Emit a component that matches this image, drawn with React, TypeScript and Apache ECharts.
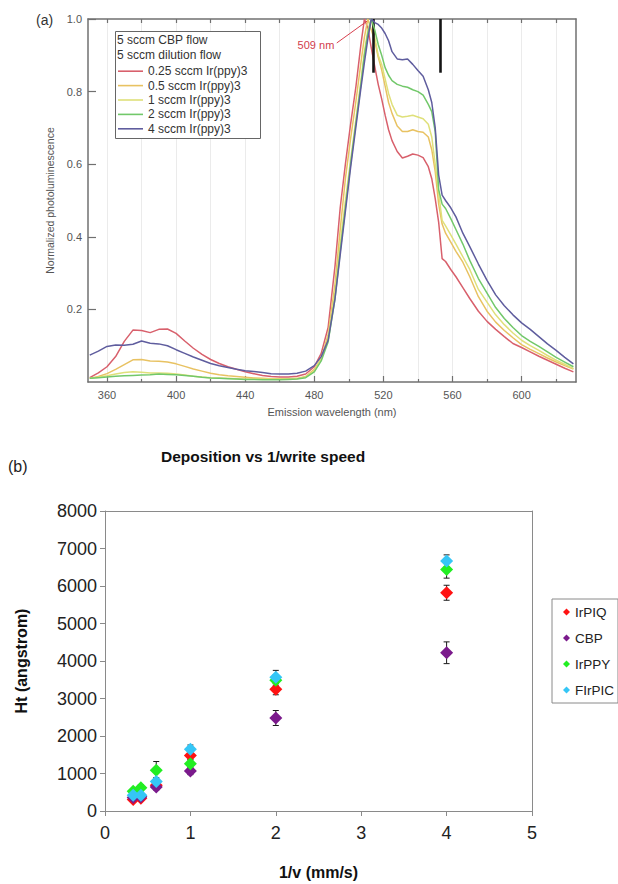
import React, { useEffect, useRef } from 'react';
import * as echarts from 'echarts';

// ---------- (a) photoluminescence spectra ----------
const wavelengths = [350, 355, 360, 365, 370, 375, 380, 385, 390, 395, 400, 405, 410, 415, 420, 425, 430, 435, 440, 445, 450, 455, 460, 465, 470, 475,
  480, 484, 488, 492, 495, 498, 501, 504, 507, 509, 511, 513, 515, 517, 519, 521, 523, 525, 528, 531, 534, 537, 540, 543, 546, 548, 550, 552, 554, 556,
  559, 562, 566, 570, 575, 580, 585, 590, 595, 600, 605, 610, 615, 620, 625, 630];

const pl025 = [0.012, 0.025, 0.042, 0.07, 0.112, 0.143, 0.142, 0.136, 0.145, 0.146, 0.134, 0.113, 0.093, 0.076, 0.062, 0.051, 0.042, 0.035, 0.028, 0.023, 0.018, 0.015, 0.014, 0.014, 0.016, 0.022,
  0.042, 0.079, 0.15, 0.32, 0.48, 0.6, 0.71, 0.81, 0.93, 1.0, 0.975, 0.92, 0.869, 0.82, 0.78, 0.735, 0.695, 0.665, 0.635, 0.617,
  0.622, 0.628, 0.625, 0.618, 0.593, 0.56, 0.505, 0.44, 0.34, 0.332, 0.31, 0.29, 0.26, 0.23, 0.195, 0.167, 0.145, 0.125, 0.106, 0.095,
  0.083, 0.071, 0.06, 0.049, 0.038, 0.028];
const pl05 = [0.01, 0.015, 0.023, 0.035, 0.048, 0.061, 0.062, 0.058, 0.057, 0.055, 0.05, 0.043, 0.036, 0.03, 0.024, 0.02, 0.017, 0.015, 0.013, 0.011, 0.01, 0.009, 0.009, 0.009, 0.01, 0.015,
  0.035, 0.065, 0.13, 0.27, 0.42, 0.56, 0.67, 0.77, 0.88, 0.95, 1.0, 0.97, 0.94, 0.895, 0.86, 0.815, 0.77, 0.74, 0.705, 0.69,
  0.69, 0.695, 0.69, 0.688, 0.675, 0.64, 0.58, 0.49, 0.435, 0.41, 0.385, 0.36, 0.33, 0.29, 0.235, 0.195, 0.165, 0.142, 0.122, 0.103,
  0.09, 0.078, 0.066, 0.055, 0.045, 0.036];
const pl1 = [0.01, 0.013, 0.017, 0.022, 0.026, 0.028, 0.027, 0.025, 0.025, 0.024, 0.022, 0.019, 0.016, 0.014, 0.012, 0.011, 0.01, 0.009, 0.008, 0.008, 0.008, 0.008, 0.008, 0.008, 0.009, 0.014,
  0.03, 0.062, 0.12, 0.25, 0.38, 0.5, 0.61, 0.72, 0.83, 0.91, 0.97, 1.0, 0.95, 0.9, 0.875, 0.835, 0.795, 0.765, 0.735, 0.73,
  0.732, 0.735, 0.73, 0.725, 0.71, 0.675, 0.6, 0.52, 0.445, 0.43, 0.405, 0.38, 0.345, 0.31, 0.255, 0.22, 0.185, 0.158, 0.135, 0.115,
  0.1, 0.087, 0.073, 0.06, 0.049, 0.037];
const pl2 = [0.01, 0.012, 0.014, 0.016, 0.017, 0.018, 0.019, 0.02, 0.022, 0.021, 0.02, 0.018, 0.016, 0.013, 0.011, 0.01, 0.009, 0.008, 0.007, 0.007, 0.006, 0.006, 0.006, 0.007, 0.008, 0.012,
  0.028, 0.058, 0.11, 0.23, 0.36, 0.48, 0.6, 0.71, 0.82, 0.9, 0.96, 1.0, 0.97, 0.93, 0.9, 0.866, 0.845, 0.83, 0.82, 0.815,
  0.812, 0.805, 0.8, 0.79, 0.765, 0.745, 0.69, 0.53, 0.49, 0.478, 0.45, 0.42, 0.38, 0.335, 0.285, 0.245, 0.205, 0.175, 0.15, 0.128,
  0.112, 0.098, 0.083, 0.068, 0.055, 0.042];
const pl4 = [0.074, 0.085, 0.098, 0.102, 0.101, 0.104, 0.113, 0.107, 0.105, 0.1, 0.089, 0.079, 0.069, 0.06, 0.051, 0.045, 0.04, 0.035, 0.031, 0.029, 0.026, 0.023, 0.022, 0.022, 0.024, 0.03,
  0.045, 0.07, 0.115, 0.23, 0.35, 0.47, 0.59, 0.7, 0.81, 0.88, 0.945, 1.0, 0.99, 0.985, 0.975, 0.96, 0.94, 0.91, 0.89, 0.888,
  0.89, 0.875, 0.858, 0.842, 0.805, 0.77, 0.7, 0.57, 0.515, 0.5, 0.48, 0.455, 0.41, 0.373, 0.325, 0.28, 0.24, 0.21, 0.185, 0.163,
  0.145, 0.125, 0.105, 0.087, 0.068, 0.05];

const spectraNames = ['0.25 sccm Ir(ppy)3', '0.5 sccm Ir(ppy)3', '1 sccm Ir(ppy)3', '2 sccm Ir(ppy)3', '4 sccm Ir(ppy)3'];
const spectraValues = [pl025, pl05, pl1, pl2, pl4];
const spectraColors = ['#d8606c', '#e8c262', '#dfe07a', '#72c86a', '#5f5d9e'];
const legendHeaderA = ['5 sccm CBP flow', '5 sccm dilution flow'];

const xLabelTicksA = [360, 400, 440, 480, 520, 560, 600];
const xMinorTicksA = [380, 420, 460, 500, 540, 580, 620];
const xTopTicksA = [360, 380, 400, 420, 440, 460, 480, 500, 520, 540, 560, 580, 600, 620];
const markerBars = [514, 553];
const peakLabel = '509 nm';

// ---------- (b) deposition vs 1/write speed ----------
const invSpeed = [0.33, 0.42, 0.6, 1, 2, 4];
const htIrPIQ = [310, 340, 690, 1480, 3250, 5820];
const htCBP = [360, 380, 640, 1070, 2480, 4220];
const htIrPPY = [530, 620, 1090, 1260, 3490, 6440];
const htFIrPIC = [420, 420, 790, 1650, 3570, 6670];
const errIrPIQ = [60, 60, 90, 120, 150, 200];
const errCBP = [50, 50, 80, 100, 200, 290];
const errIrPPY = [70, 80, 230, 120, 150, 230];
const errFIrPIC = [60, 60, 100, 110, 180, 160];

const depoNames = ['IrPIQ', 'CBP', 'IrPPY', 'FIrPIC'];
const depoValues = [htIrPIQ, htCBP, htIrPPY, htFIrPIC];
const depoErrors = [errIrPIQ, errCBP, errIrPPY, errFIrPIC];
const depoColors = ['#ff1212', '#7b1a8c', '#22ee22', '#35c6f6'];

const FONT = "'Liberation Sans', Arial, Helvetica, sans-serif";

export default function App() {
  const ref = useRef<HTMLDivElement>(null);

  useEffect(() => {
    const chart = echarts.init(ref.current as HTMLDivElement, null, { renderer: 'svg' });
    const frameA = { color: '#707070', width: 1.5 };
    const frameB = { color: '#8a8a8a', width: 1 };

    const lineSeries: any[] = spectraNames.map((name, i) => ({
      name,
      type: 'line',
      xAxisIndex: 0,
      yAxisIndex: 0,
      data: wavelengths.map((w, k) => [w, spectraValues[i][k]]),
      showSymbol: false,
      symbol: 'none',
      lineStyle: { color: spectraColors[i], width: 1.5 },
      itemStyle: { color: spectraColors[i] },
      z: 2 + i,
    }));
    lineSeries[0].markLine = {
      silent: true,
      symbol: ['none', 'none'],
      lineStyle: { color: '#d8404e', width: 1, type: 'solid' },
      label: { show: true, position: 'start', formatter: peakLabel, color: '#d23c4b', fontSize: 11, fontFamily: FONT, distance: 3 },
      emphasis: { disabled: true },
      data: [[{ coord: [493, 0.934] }, { coord: [510.5, 0.994] }]],
    };
    lineSeries[4].markLine = {
      silent: true,
      symbol: ['none', 'none'],
      lineStyle: { color: '#151515', width: 2.6, type: 'solid' },
      label: { show: false },
      emphasis: { disabled: true },
      data: markerBars.map((b) => [{ coord: [b, 1] }, { coord: [b, 0.852] }]),
    };

    const errSeries = depoNames.map((name, i) => ({
      name: name + ' error',
      type: 'custom',
      xAxisIndex: 3,
      yAxisIndex: 2,
      z: 3,
      silent: true,
      data: invSpeed.map((x, k) => [x, depoValues[i][k], depoErrors[i][k]]),
      encode: { x: 0, y: 1 },
      renderItem: (params: any, api: any) => {
        const x = api.value(0);
        const y = api.value(1);
        const e = api.value(2);
        const top = api.coord([x, y + e]);
        const bot = api.coord([x, y - e]);
        const w = 3;
        const st = { stroke: '#1a1a1a', lineWidth: 1 };
        return {
          type: 'group',
          children: [
            { type: 'line', shape: { x1: top[0], y1: top[1], x2: bot[0], y2: bot[1] }, style: st },
            { type: 'line', shape: { x1: top[0] - w, y1: top[1], x2: top[0] + w, y2: top[1] }, style: st },
            { type: 'line', shape: { x1: bot[0] - w, y1: bot[1], x2: bot[0] + w, y2: bot[1] }, style: st },
          ],
        };
      },
    }));

    const scatterSeries = depoNames.map((name, i) => ({
      name,
      type: 'scatter',
      xAxisIndex: 3,
      yAxisIndex: 2,
      z: 4 + i,
      symbol: 'diamond',
      symbolSize: 13,
      itemStyle: { color: depoColors[i], opacity: 1 },
      data: invSpeed.map((x, k) => [x, depoValues[i][k]]),
    }));

    const option: any = {
      animation: false,
      backgroundColor: '#ffffff',
      textStyle: { fontFamily: FONT },
      title: {
        text: 'Deposition vs 1/write speed',
        left: 156,
        top: 443,
        textStyle: { fontSize: 15.5, fontWeight: 'bold', color: '#111', fontFamily: FONT },
      },
      grid: [
        { left: 88, top: 19, width: 488, height: 363, containLabel: false, outerBoundsMode: 'none' },
        { left: 105, top: 511, width: 427, height: 300, containLabel: false, outerBoundsMode: 'none' },
      ],
      legend: [
        {
          data: spectraNames,
          orient: 'vertical',
          left: 118,
          top: 64,
          padding: 0,
          itemGap: 0,
          itemWidth: 25,
          itemHeight: 1.6,
          icon: 'rect',
          selectedMode: false,
          textStyle: { fontSize: 12, color: '#333', fontFamily: FONT, lineHeight: 14.4 },
          z: 6,
        },
        {
          data: depoNames,
          orient: 'vertical',
          left: 552,
          top: 599,
          padding: [5, 4, 5, 11],
          itemGap: 10,
          itemWidth: 7,
          itemHeight: 7,
          icon: 'diamond',
          borderColor: '#8a8a8a',
          borderWidth: 1,
          selectedMode: false,
          textStyle: { fontSize: 13.5, color: '#222', fontFamily: FONT, lineHeight: 16 },
        },
      ],
      xAxis: [
        {
          gridIndex: 0, type: 'value', min: 349, max: 631.5, position: 'bottom',
          axisLine: { show: true, onZero: false, lineStyle: frameA },
          axisTick: { show: true, inside: true, length: 6, customValues: xLabelTicksA, lineStyle: { color: '#707070', width: 1.2 } },
          axisLabel: { show: true, customValues: xLabelTicksA, color: '#555', fontSize: 11, margin: 7, fontFamily: FONT },
          splitLine: { show: true, lineStyle: { color: '#ebebeb', width: 1 } },
          name: 'Emission wavelength (nm)', nameLocation: 'middle', nameGap: 24,
          nameTextStyle: { color: '#555', fontSize: 11, fontFamily: FONT },
        },
        {
          gridIndex: 0, type: 'value', min: 349, max: 631.5, position: 'bottom',
          axisLine: { show: false, onZero: false },
          axisTick: { show: true, inside: true, length: 3, customValues: xMinorTicksA, lineStyle: { color: '#707070', width: 1.2 } },
          axisLabel: { show: false },
          splitLine: { show: true, lineStyle: { color: '#ebebeb', width: 1 } },
        },
        {
          gridIndex: 0, type: 'value', min: 349, max: 631.5, position: 'top',
          axisLine: { show: true, onZero: false, lineStyle: frameA },
          axisTick: { show: true, inside: true, length: 4, customValues: xTopTicksA, lineStyle: { color: '#707070', width: 1.2 } },
          axisLabel: { show: false },
          splitLine: { show: false },
        },
        {
          gridIndex: 1, type: 'value', min: 0, max: 5, interval: 1, position: 'bottom',
          axisLine: { show: true, onZero: false, lineStyle: frameB },
          axisTick: { show: true, inside: false, length: 5, lineStyle: frameB },
          axisLabel: { color: '#222', fontSize: 18, margin: 13, fontFamily: FONT, formatter: (v: number) => String(v) },
          splitLine: { show: false },
          name: '1/v (mm/s)', nameLocation: 'middle', nameGap: 53,
          nameTextStyle: { color: '#111', fontSize: 16, fontWeight: 'bold', fontFamily: FONT },
        },
        {
          gridIndex: 1, type: 'value', min: 0, max: 5, position: 'top',
          axisLine: { show: true, onZero: false, lineStyle: frameB },
          axisTick: { show: false }, axisLabel: { show: false }, splitLine: { show: false },
        },
      ],
      yAxis: [
        {
          gridIndex: 0, type: 'value', min: 0, max: 1, interval: 0.2, position: 'left',
          axisLine: { show: true, onZero: false, lineStyle: frameA },
          axisTick: { show: true, inside: true, length: 8, lineStyle: { color: '#707070', width: 1.2 } },
          axisLabel: { showMinLabel: false, formatter: (v: number) => v.toFixed(1), color: '#555', fontSize: 11, margin: 6, fontFamily: FONT },
          splitLine: { show: false },
          name: 'Normalized photoluminescence', nameLocation: 'middle', nameGap: 30,
          nameTextStyle: { color: '#555', fontSize: 10.5, fontFamily: FONT },
        },
        {
          gridIndex: 0, type: 'value', min: 0, max: 1, position: 'right',
          axisLine: { show: true, onZero: false, lineStyle: frameA },
          axisTick: { show: false }, axisLabel: { show: false }, splitLine: { show: false },
        },
        {
          gridIndex: 1, type: 'value', min: 0, max: 8000, interval: 1000, position: 'left',
          axisLine: { show: true, onZero: false, lineStyle: frameB },
          axisTick: { show: true, inside: false, length: 5, lineStyle: frameB },
          axisLabel: { color: '#222', fontSize: 18, margin: 8, fontFamily: FONT, formatter: (v: number) => String(v) },
          splitLine: { show: false },
          name: 'Ht (angstrom)', nameLocation: 'middle', nameGap: 76,
          nameTextStyle: { color: '#111', fontSize: 16, fontWeight: 'bold', fontFamily: FONT },
        },
        {
          gridIndex: 1, type: 'value', min: 0, max: 8000, position: 'right',
          axisLine: { show: true, onZero: false, lineStyle: frameB },
          axisTick: { show: false }, axisLabel: { show: false }, splitLine: { show: false },
        },
      ],
      graphic: [
        { type: 'text', left: 36, top: 13, style: { text: '(a)', fontSize: 14, fill: '#333', fontFamily: FONT } },
        { type: 'rect', left: 115, top: 31, z: 5, shape: { width: 145, height: 107 }, style: { fill: '#fff', stroke: '#666', lineWidth: 1 } },
        { type: 'text', left: 117, top: 34, z: 6, style: { text: legendHeaderA[0], fontSize: 12, fill: '#333', fontFamily: FONT } },
        { type: 'text', left: 117, top: 48.5, z: 6, style: { text: legendHeaderA[1], fontSize: 12, fill: '#333', fontFamily: FONT } },
        { type: 'text', left: 8, top: 458, style: { text: '(b)', fontSize: 16, fill: '#222', fontFamily: FONT } },
      ],
      series: [...lineSeries, ...errSeries, ...scatterSeries],
    };

    chart.setOption(option);
    return () => chart.dispose();
  }, []);

  return (
    <div
      ref={ref}
      style={{ position: 'absolute', left: 0, top: 0, width: 618, height: 884, background: '#fff' }}
    />
  );
}
